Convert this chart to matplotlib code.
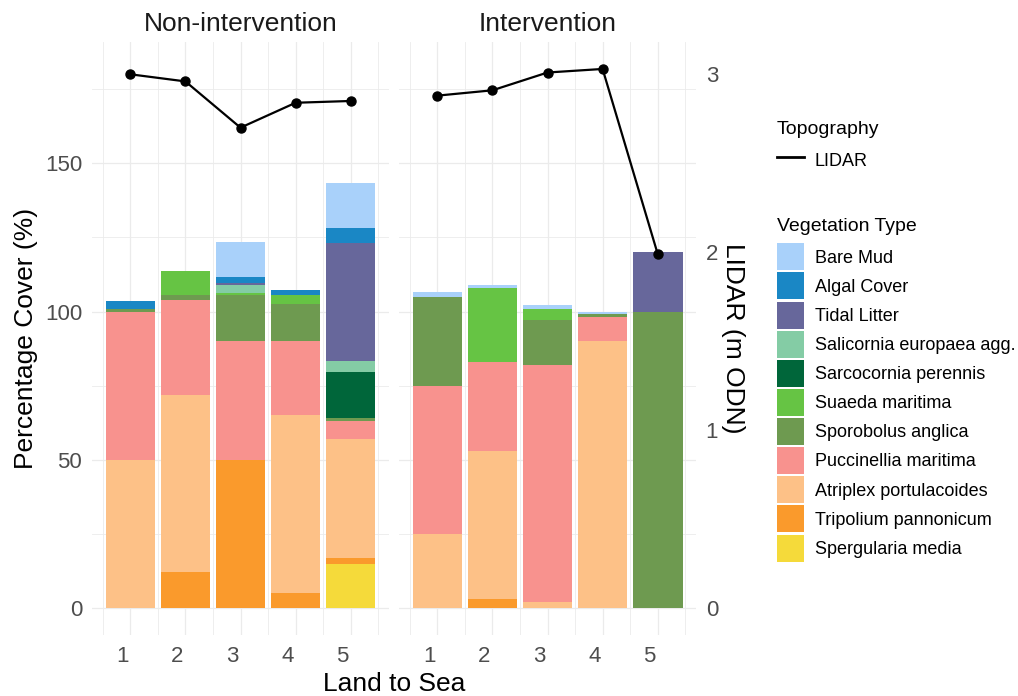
import numpy as np
import matplotlib
matplotlib.use("Agg")
import matplotlib.pyplot as plt
from matplotlib.patches import Patch
from matplotlib.lines import Line2D
from matplotlib.transforms import ScaledTranslation

plt.rcParams['font.family'] = ['Liberation Sans', 'DejaVu Sans']

# ---- data (percentage cover per quadrat, land to sea) ----
positions = [1, 2, 3, 4, 5]
panels = ["Non-intervention", "Intervention"]

# legend order (top of stack first)
veg_types = ["Bare Mud", "Algal Cover", "Tidal Litter", "Salicornia europaea agg.",
             "Sarcocornia perennis", "Suaeda maritima", "Sporobolus anglica",
             "Puccinellia maritima", "Atriplex portulacoides", "Tripolium pannonicum",
             "Spergularia media"]
veg_colors = ["#A9D1FA", "#1A87C5", "#67679B", "#84CCA5", "#00663A", "#66C444",
              "#6E9A50", "#F8928E", "#FDC187", "#FA9A2C", "#F5DA3A"]

non_cover = {
    "Spergularia media":        [0, 0, 0, 0, 15],
    "Tripolium pannonicum":     [0, 12, 50, 5, 2],
    "Atriplex portulacoides":   [50, 60, 0, 60, 40],
    "Puccinellia maritima":     [50, 32, 40, 25, 6],
    "Sporobolus anglica":       [1, 1.5, 15.5, 12.5, 1],
    "Suaeda maritima":          [0, 8, 0.6, 3, 0],
    "Sarcocornia perennis":     [0, 0, 0, 0, 15.5],
    "Salicornia europaea agg.": [0, 0, 3, 0, 3.7],
    "Tidal Litter":             [0, 0, 0.5, 0, 40],
    "Algal Cover":              [2.5, 0, 2, 1.7, 5],
    "Bare Mud":                 [0, 0, 12, 0, 15],
}
int_cover = {
    "Spergularia media":        [0, 0, 0, 0, 0],
    "Tripolium pannonicum":     [0, 3, 0, 0, 0],
    "Atriplex portulacoides":   [25, 50, 2, 90, 0],
    "Puccinellia maritima":     [50, 30, 80, 8, 0],
    "Sporobolus anglica":       [30, 0, 15, 1, 100],
    "Suaeda maritima":          [0, 25, 4, 0, 0],
    "Sarcocornia perennis":     [0, 0, 0, 0, 0],
    "Salicornia europaea agg.": [0, 0, 0, 0, 0],
    "Tidal Litter":             [0, 0, 0, 0, 20],
    "Algal Cover":              [0, 0, 0, 0, 0],
    "Bare Mud":                 [1.7, 0.8, 1.3, 0.8, 0],
}

lidar_non = [3.00, 2.96, 2.70, 2.84, 2.85]
lidar_int = [2.88, 2.91, 3.01, 3.03, 1.99]

scale = 60  # 1 m ODN drawn as 60 % on the primary axis

covers = [non_cover, int_cover]
lidars = [lidar_non, lidar_int]

# shared y range (ggplot style 5% expansion)
top = max(max(np.sum([c[v] for v in veg_types], axis=0).max() for c in covers),
          max(max(l) for l in lidars) * scale)
ylim = (-0.05 * top, 1.05 * top)
xlim = (0.55 - 0.05 * 4.9, 5.45 + 0.05 * 4.9)

W, H = 1018, 696
fig = plt.figure(figsize=(W / 100, H / 100), dpi=100)

grid_col = "#EBEBEB"
tick_col = "#4D4D4D"

lefts = [92, 399]
pw = 297
ptop, pbot = 42, 635

for i, (name, cover, lidar) in enumerate(zip(panels, covers, lidars)):
    ax = fig.add_axes([lefts[i] / W, (H - pbot) / H, pw / W, (pbot - ptop) / H])
    ax.set_xlim(*xlim)
    ax.set_ylim(*ylim)
    for s in ax.spines.values():
        s.set_visible(False)

    # grid
    for y in [0, 50, 100, 150]:
        ax.axhline(y, color=grid_col, lw=0.9, zorder=0)
    for y in [25, 75, 125, 175]:
        ax.axhline(y, color=grid_col, lw=0.6, zorder=0)
    for x in positions:
        ax.axvline(x, color=grid_col, lw=0.9, zorder=0)
    for x in np.arange(0.5, 6, 1):
        ax.axvline(x, color=grid_col, lw=0.6, zorder=0)

    # stacked bars, bottom of stack first
    bottom = np.zeros(len(positions))
    for veg, col in zip(veg_types[::-1], veg_colors[::-1]):
        vals = np.array(cover[veg], dtype=float)
        ax.bar(positions, vals, bottom=bottom, width=0.9, color=col,
               edgecolor='none', zorder=2)
        bottom += vals

    ax.plot(positions, np.array(lidar) * scale, color='black', lw=1.6,
            marker='o', markersize=6.5, zorder=3)

    ax.set_xticks(positions)
    ax.set_xticklabels([str(p) for p in positions], ha='right')
    ax.tick_params(axis='x', length=0, pad=8, labelsize=16, labelcolor=tick_col)
    shift = ScaledTranslation(-2 / 100, 0, fig.dpi_scale_trans)
    for lab in ax.get_xticklabels():
        lab.set_transform(lab.get_transform() + shift)
    ax.set_yticks([0, 50, 100, 150])
    if i == 0:
        ax.tick_params(axis='y', length=0, pad=7, labelsize=16, labelcolor=tick_col)
    else:
        ax.tick_params(axis='y', length=0, labelleft=False)
        sec = ax.secondary_yaxis('right', functions=(lambda v: v / scale,
                                                     lambda v: v * scale))
        sec.set_yticks([0, 1, 2, 3])
        sec.tick_params(length=0, pad=7, labelsize=16, labelcolor=tick_col)
        for s in sec.spines.values():
            s.set_visible(False)

    fig.text((lefts[i] + pw / 2) / W, 1 - 24 / H, name, ha='center', va='center',
             fontsize=19, color='#1A1A1A')

fig.text(26 / W, 1 - 338 / H, "Percentage Cover (%)", rotation=90,
         ha='center', va='center', fontsize=19)
fig.text(733 / W, 1 - 338 / H, "LIDAR (m ODN)", rotation=270,
         ha='center', va='center', fontsize=19)
fig.text(394 / W, 1 - 684 / H, "Land to Sea", ha='center', va='center', fontsize=19)

# legends
leg_kw = dict(loc='upper left', frameon=False, fontsize=13, title_fontsize=14,
              borderpad=0, borderaxespad=0, handlelength=1.5, handleheight=1.92,
              labelspacing=0.12, handletextpad=0.6, alignment='left')
topo = fig.legend(handles=[Line2D([0], [0], color='black', lw=2)], labels=["LIDAR"],
                  title="Topography", bbox_to_anchor=(777 / W, 1 - 121 / H), **leg_kw)
topo._legend_box.sep = 6.5
veg_handles = [Patch(facecolor=c, edgecolor='none') for c in veg_colors]
vleg = fig.legend(handles=veg_handles, labels=veg_types, title="Vegetation Type",
                  bbox_to_anchor=(777 / W, 1 - 218 / H), **leg_kw)
vleg._legend_box.sep = 6

fig.savefig("out.png", dpi=100)
